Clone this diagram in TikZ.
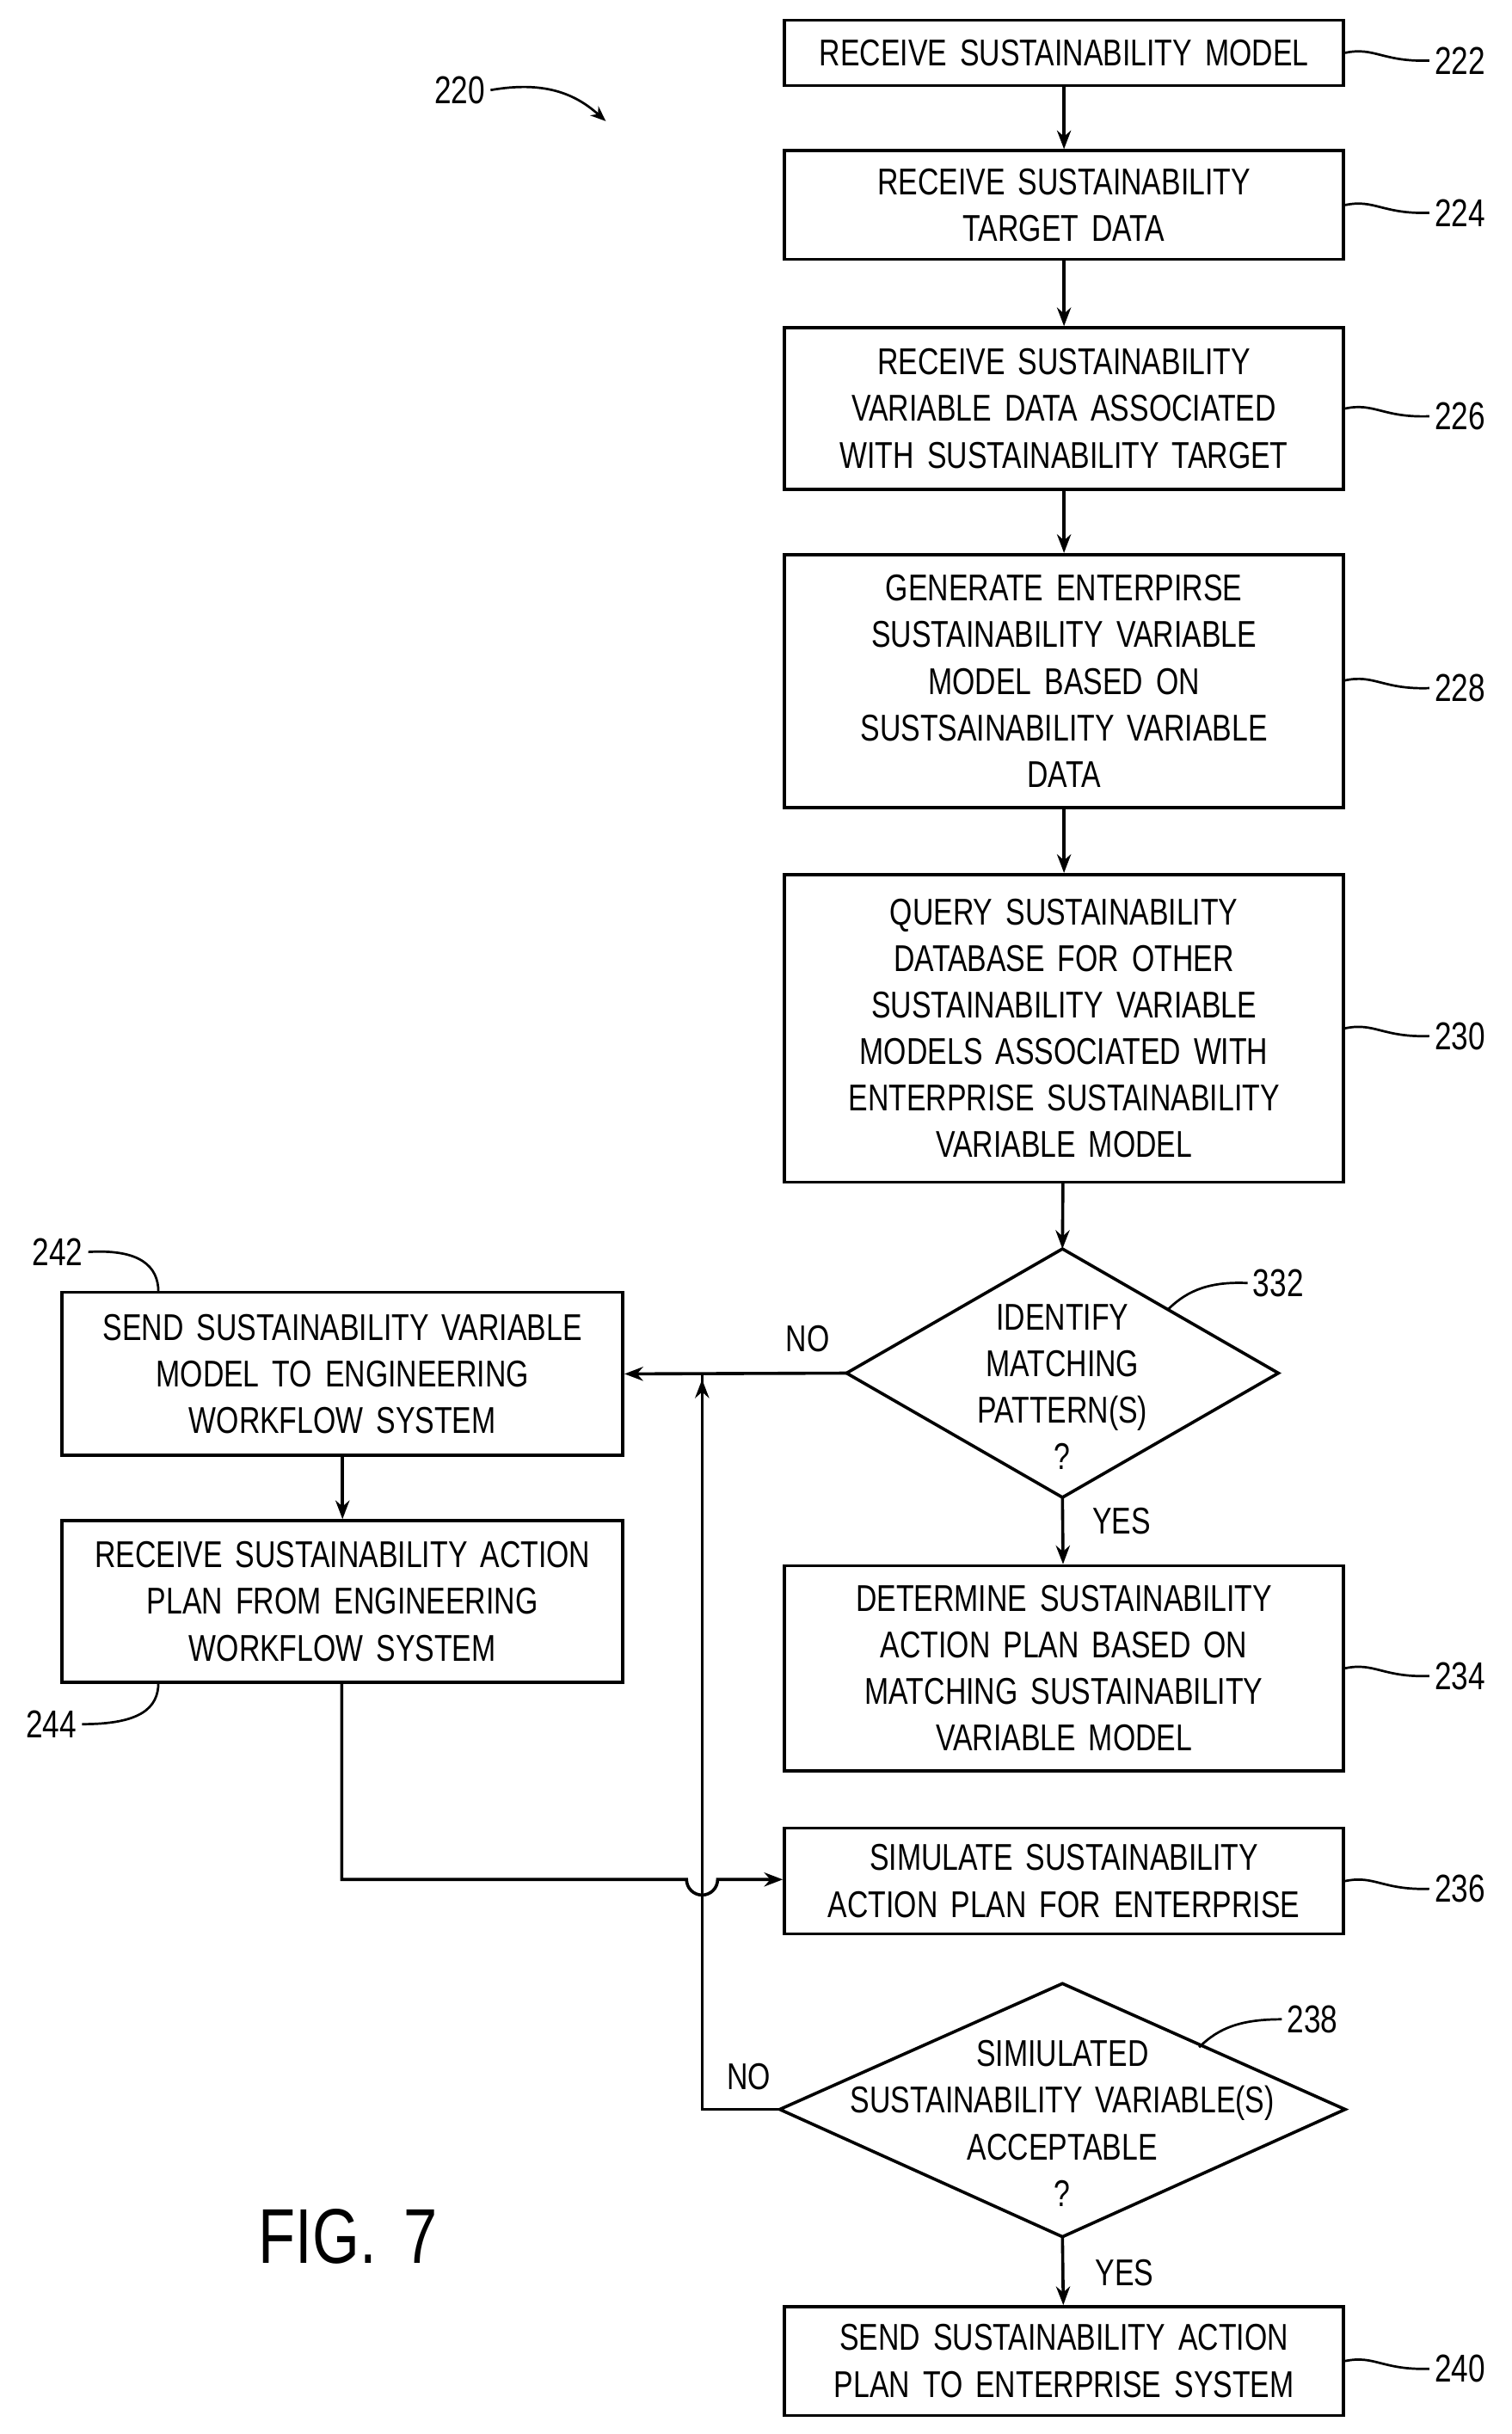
\documentclass[tikz,border=0pt]{standalone}
\usepackage{fontspec}
\setmainfont[FakeStretch=0.78,WordSpace=1.6]{Liberation Sans}
\usetikzlibrary{shapes.geometric,arrows.meta}
\begin{document}
\begin{tikzpicture}[x=1pt,y=-1pt,
 every node/.style={font=\fontsize{24}{30}\selectfont},
 box/.style={draw,line width=2pt,inner sep=0pt,align=center},
 ln/.style={line width=2pt},
 ar/.style={line width=2pt,-{Stealth[length=12pt,width=9pt]}},
 lead/.style={line width=1.5pt}]
\useasboundingbox (0,0) rectangle (973,1567);
\newcommand{\bx}[6]{\node[box,minimum width=#3-#2,minimum height=#5-#4] (#1) at ({(#2+#3)/2},{(#4+#5)/2}) {#6};}
\bx{b222}{505}{865}{13}{55}{RECEIVE SUSTAINABILITY MODEL}
\bx{b224}{505}{865}{97}{167}{RECEIVE SUSTAINABILITY\\TARGET DATA}
\bx{b226}{505}{865}{211}{315}{RECEIVE SUSTAINABILITY\\VARIABLE DATA ASSOCIATED\\WITH SUSTAINABILITY TARGET}
\bx{b228}{505}{865}{357}{520}{GENERATE ENTERPIRSE\\SUSTAINABILITY VARIABLE\\MODEL BASED ON\\SUSTSAINABILITY VARIABLE\\DATA}
\bx{b230}{505}{865}{563}{761}{QUERY SUSTAINABILITY\\DATABASE FOR OTHER\\SUSTAINABILITY VARIABLE\\MODELS ASSOCIATED WITH\\ENTERPRISE SUSTAINABILITY\\VARIABLE MODEL}
\bx{b234}{505}{865}{1008}{1140}{DETERMINE SUSTAINABILITY\\ACTION PLAN BASED ON\\MATCHING SUSTAINABILITY\\VARIABLE MODEL}
\bx{b236}{505}{865}{1177}{1245}{SIMULATE SUSTAINABILITY\\ACTION PLAN FOR ENTERPRISE}
\bx{b240}{505}{865}{1485}{1555}{SEND SUSTAINABILITY ACTION\\PLAN TO ENTERPRISE SYSTEM}
\bx{b242}{40}{401}{832}{937}{SEND SUSTAINABILITY VARIABLE\\MODEL TO ENGINEERING\\WORKFLOW SYSTEM}
\bx{b244}{40}{401}{979}{1083}{RECEIVE SUSTAINABILITY ACTION\\PLAN FROM ENGINEERING\\WORKFLOW SYSTEM}
\draw[ln] (545,884) coordinate (d332w) -- (684,804) coordinate (d332n) -- (823,884) coordinate (d332e) -- (684,964) coordinate (d332s) -- cycle;
\node[align=center] (t332) at (684,893) {IDENTIFY\\MATCHING\\PATTERN(S)\\?};
\draw[ln] (502,1358) coordinate (d238w) -- (684,1277) coordinate (d238n) -- (866,1358) coordinate (d238e) -- (684,1440) coordinate (d238s) -- cycle;
\node[align=center] (t238) at (684,1367) {SIMIULATED\\SUSTAINABILITY VARIABLE(S)\\ACCEPTABLE\\?};
\draw[ar] (b222) -- (b224);
\draw[ar] (b224) -- (b226);
\draw[ar] (b226) -- (b228);
\draw[ar] (b228) -- (b230);
\draw[ar] (b230) -- (d332n);
\draw[ar] (d332s) -- (b234);
\draw[ar] (d238s) -- (b240);
\draw[ar] (d332w) -- (b242.east);
\draw[ar] (b242) -- (b244);
\coordinate (j1) at (452,1358);
\draw[ar] (d238w) -- (j1) -- (452,888);
\draw[ln] (452,895) -- (452,884);
\coordinate (c1) at (220,1210);
\draw[ar] (b244.south -| c1) -- (c1) -- (442,1210) arc(180:0:10) -- (b236.west |- c1);
\node (no1) at (520,862) {NO};
\node (no2) at (482,1337) {NO};
\node (yes1) at (722,979) {YES};
\node (yes2) at (724,1463) {YES};
\foreach \n/\y in {222/34,224/132,226/263,228/438,230/662,234/1074,236/1211,240/1520}{
 \node[font=\fontsize{25}{28}\selectfont] (l\n) at (940,\y+5) {\n};
 \draw[lead] (b\n.east |- 0,\y) .. controls (885,\y-4) and (890,\y+6) .. (l\n.west);
}
\node[font=\fontsize{25}{28}\selectfont] (l242) at (37,806) {242};
\draw[lead] (l242.east) .. controls (90,804) and (102,815) .. (102,832);
\node[font=\fontsize{25}{28}\selectfont] (l244) at (33,1110) {244};
\draw[lead] (l244.east) .. controls (90,1110) and (102,1100) .. (102,1083);
\node[font=\fontsize{25}{28}\selectfont] (l332) at (823,826) {332};
\draw[lead] (752,843) .. controls (765,830) and (780,825) .. (l332.west);
\node[font=\fontsize{25}{28}\selectfont] (l238) at (845,1300) {238};
\draw[lead] (772,1318) .. controls (785,1305) and (800,1300) .. (l238.west);
\node[font=\fontsize{25}{28}\selectfont] (l220) at (296,58) {220};
\draw[lead,-{Stealth[length=10pt,width=8pt]}] (l220.east) .. controls (350,52) and (370,60) .. (390,78);
\node[font=\fontsize{50}{52}\selectfont] (fig) at (224,1440) {FIG. 7};
\end{tikzpicture}
\end{document}
